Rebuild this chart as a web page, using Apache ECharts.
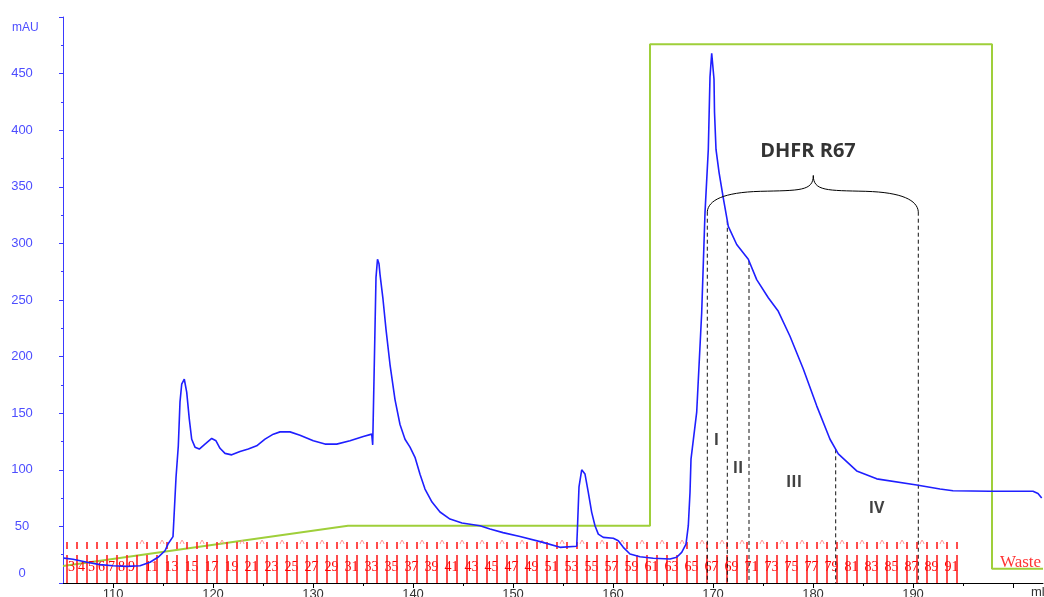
<!DOCTYPE html>
<html>
<head>
<meta charset="utf-8">
<script src="https://cdn.jsdelivr.net/npm/echarts@6/dist/echarts.min.js"></script>
<style>
  html, body { margin: 0; padding: 0; background: #fff; }
  #main { width: 1044px; height: 597px; }
</style>
</head>
<body>
<div id="main"></div>
<script>
// UV 280 nm trace (volume in ml, absorbance in mAU)
const uvMl = [
  105.1, 106.0, 107.4, 108.7, 110.0, 111.4, 112.7, 113.7, 114.5, 115.2, 115.5, 116.0,
  116.3, 116.53, 116.7, 116.87, 117.13, 117.37, 117.63, 117.87, 118.2, 118.63, 119.2,
  119.87, 120.3, 120.7, 121.2, 121.87, 122.7, 123.53, 124.37, 125.2, 126.03, 126.7,
  127.7, 128.7, 130.03, 131.2, 132.37, 133.7, 135.03, 135.87, 135.97, 136.1, 136.3,
  136.45, 136.6, 136.7, 137.0, 137.3, 137.7, 138.2, 138.7, 139.2, 139.7, 140.2, 140.7,
  141.2, 141.9, 142.7, 143.7, 144.9, 146.7, 147.7, 149.0, 150.7, 153.0, 154.7, 156.37,
  156.43, 156.6, 156.87, 157.2, 157.53, 157.87, 158.2, 158.53, 159.03, 160.03, 160.53,
  161.03, 161.7, 162.7, 164.03, 165.7, 166.37, 166.87, 167.3, 167.53, 167.7, 167.8,
  168.37, 168.87, 169.2, 169.53, 169.7, 169.87, 170.0, 170.1, 170.15, 170.3, 170.6,
  171.03, 171.53, 172.37, 173.53, 174.37, 175.53, 176.53, 177.7, 179.03, 180.37, 181.7,
  182.53, 184.37, 186.37, 190.37, 192.7, 194.0, 197.7, 202.0, 202.5, 202.87
];
const uvMau = [
  22, 21, 18.3, 16.2, 15.3, 14.7, 15.3, 18.3, 22.7, 28.5, 34.4, 41,
  93, 121, 160, 175.6, 180, 168.6, 144.7, 127, 120, 118.3, 122.7,
  127.7, 125.6, 119, 114.5, 113.2, 116.2, 118.3, 121.2, 127.1, 131.5, 133.5,
  133.5, 130.6, 125.6, 122.7, 122.7, 125.6, 129.5, 131.5, 122, 180, 270,
  286, 282, 272.7, 250.7, 224, 193, 162, 140, 127, 120, 111, 96,
  83, 71.5, 62.7, 56.5, 53, 50.5, 47.7, 44.5, 41, 35.9, 31.5, 32.4,
  45, 85, 100, 96.2, 80, 62.4, 50.6, 43.2, 40.3, 39.5, 37.3,
  31.5, 25.6, 23.2, 21.8, 21.2, 22.7, 27.1, 34.4, 50.6, 80, 109.4,
  151, 239, 327, 383, 447, 468, 467, 445, 416, 383, 363,
  340, 315, 299, 286, 268, 252, 240, 218, 189, 156.5, 127,
  114, 99, 92, 86.5, 83, 81.5, 81, 81, 79, 75
];

// Gradient / concentration trace (% B)
const concMl = [105.0, 133.5, 163.7, 163.7, 197.9, 197.9, 203.0];
const concPct = [3.0, 10.1, 10.1, 95.2, 95.2, 2.5, 2.5];

// Fraction collector: fraction numbers and their start volumes (ml)
const fractionNo = [
  3, 4, 5, 6, 7, 8, 9, 10, 11, 12, 13, 14, 15, 16, 17, 18, 19, 20, 21, 22, 23, 24, 25, 26,
  27, 28, 29, 30, 31, 32, 33, 34, 35, 36, 37, 38, 39, 40, 41, 42, 43, 44, 45, 46, 47, 48,
  49, 50, 51, 52, 53, 54, 55, 56, 57, 58, 59, 60, 61, 62, 63, 64, 65, 66, 67, 68, 69, 70,
  71, 72, 73, 74, 75, 76, 77, 78, 79, 80, 81, 82, 83, 84, 85, 86, 87, 88, 89, 90, 91, 92
];
const fractionStart = [
  105.4, 106.4, 107.4, 108.4, 109.4, 110.4, 111.4, 112.4, 113.4, 114.4, 115.4, 116.4,
  117.4, 118.4, 119.4, 120.4, 121.4, 122.4, 123.4, 124.4, 125.4, 126.4, 127.4, 128.4,
  129.4, 130.4, 131.4, 132.4, 133.4, 134.4, 135.4, 136.4, 137.4, 138.4, 139.4, 140.4,
  141.4, 142.4, 143.4, 144.4, 145.4, 146.4, 147.4, 148.4, 149.4, 150.4, 151.4, 152.4,
  153.4, 154.4, 155.4, 156.4, 157.4, 158.4, 159.4, 160.4, 161.4, 162.4, 163.4, 164.4,
  165.4, 166.4, 167.4, 168.4, 169.4, 170.4, 171.4, 172.4, 173.4, 174.4, 175.4, 176.4,
  177.4, 178.4, 179.4, 180.4, 181.4, 182.4, 183.4, 184.4, 185.4, 186.4, 187.4, 188.4,
  189.4, 190.4, 191.4, 192.4, 193.4, 194.4
];
// fractions whose number is printed
const fractionLabelled = [
  3, 4, 5, 6, 7, 8, 9, 11, 13, 15, 17, 19, 21, 23, 25, 27, 29, 31, 33, 35, 37, 39, 41, 43,
  45, 47, 49, 51, 53, 55, 57, 59, 61, 63, 65, 67, 69, 71, 73, 75, 77, 79, 81, 83, 85, 87, 89, 91
];
// fractions carrying the small caret mark in the upper row
const fractionCaret = [
  11, 13, 15, 17, 19, 21, 23, 25, 27, 29, 31, 33, 35, 37, 39, 41, 43, 45, 47, 49, 51, 53,
  55, 57, 59, 61, 63, 65, 67, 69, 71, 73, 75, 77, 79, 81, 83, 85, 87, 89, 91
];

// Pooling cuts of the DHFR R67 peak (ml) and the brace spanning them
const cutMl = [169.43, 171.43, 173.6, 182.27, 190.53];
const braceEndMau = 328;
const braceMidMau = 346;
const braceTipMl = 180.03;
const braceTipMau = 360;

// Pool names and their positions (ml, mAU)
const poolNames = ['I', 'II', 'III', 'IV'];
const poolMl = [170.35, 172.5, 178.1, 186.35];
const poolMau = [126, 101, 89, 66];

// Axis tick values
const xLabelValues = [110, 120, 130, 140, 150, 160, 170, 180, 190];
const xMajorTicks = [110, 120, 130, 140, 150, 160, 170, 180, 190, 200];
const xMinorTicks = [115, 125, 135, 145, 155, 165, 175, 185, 195];

function uvAt(v) {
  for (let i = 1; i < uvMl.length; i++) {
    if (uvMl[i] >= v) {
      const t = (v - uvMl[i - 1]) / (uvMl[i] - uvMl[i - 1]);
      return uvMau[i - 1] + t * (uvMau[i] - uvMau[i - 1]);
    }
  }
  return uvMau[uvMau.length - 1];
}

const uvData = uvMl.map((v, i) => [v, uvMau[i]]);
const concData = concMl.map((v, i) => [v, concPct[i]]);
const fractionData = fractionNo.map((n, i) => [
  fractionStart[i], n,
  fractionLabelled.indexOf(n) >= 0 ? 1 : 0,
  fractionCaret.indexOf(n) >= 0 ? 1 : 0
]);
const cutData = cutMl.map((v, i) => [v, (i === 0 || i === cutMl.length - 1) ? braceEndMau : uvAt(v)]);
const poolData = poolNames.map((name, i) => ({ name: name, value: [poolMl[i], poolMau[i]] }));

const chart = echarts.init(document.getElementById('main'));
chart.setOption({
  animation: false,
  backgroundColor: '#fff',
  grid: { left: 63, right: 1, top: 17, bottom: 14, outerBoundsMode: 'none', containLabel: false },
  xAxis: [{
    type: 'value', min: 105, max: 203,
    axisLine: { onZero: false, lineStyle: { color: '#000', width: 1 } },
    axisTick: { show: true, customValues: xMajorTicks, length: 5, lineStyle: { color: '#000' } },
    axisLabel: { customValues: xLabelValues, margin: 5, color: '#333', fontSize: 13, fontFamily: 'Liberation Sans' },
    splitLine: { show: false }
  }, {
    type: 'value', min: 105, max: 203, position: 'bottom',
    axisLine: { show: false, onZero: false },
    axisTick: { show: true, customValues: xMinorTicks, length: 3, lineStyle: { color: '#000' } },
    axisLabel: { show: false },
    splitLine: { show: false }
  }],
  yAxis: [{
    type: 'value', min: 0, max: 500, interval: 50,
    axisLine: { show: true, onZero: false, lineStyle: { color: '#3a3aff', width: 1 } },
    axisTick: { show: true, length: 4, lineStyle: { color: '#3a3aff' } },
    minorTick: { show: true, splitNumber: 2, length: 2, lineStyle: { color: '#3a3aff' } },
    axisLabel: {
      formatter: v => (v === 500 ? '' : (v === 0 ? '{base|0}' : String(v))),
      rich: { base: { padding: [0, 0, 20, 0], color: '#4d4dff', fontSize: 13, fontFamily: 'Liberation Sans' } },
      align: 'center', margin: 41, color: '#4d4dff', fontSize: 13, fontFamily: 'Liberation Sans'
    },
    splitLine: { show: false }
  }, {
    type: 'value', min: 0, max: 100, show: false
  }],
  graphic: [
    { type: 'text', left: 12, top: 22, style: { text: 'mAU', fill: '#4d4dff', font: '12px "Liberation Sans"' } },
    { type: 'text', left: 1031, top: 586, style: { text: 'ml', fill: '#333', font: '13px "Liberation Sans"' } }
  ],
  series: [
    {
      name: 'Conc B', type: 'line', xAxisIndex: 0, yAxisIndex: 1, data: concData,
      showSymbol: false, symbol: 'none', z: 2,
      lineStyle: { color: '#9fcf3a', width: 2 }
    },
    {
      name: 'Fractions', type: 'custom', xAxisIndex: 0, yAxisIndex: 0, data: fractionData, z: 3,
      clip: false,
      renderItem: (params, api) => {
        const p = api.coord([api.value(0), 0]);
        const x = Math.round(p[0]);
        const y0 = Math.round(p[1]);
        const children = [
          { type: 'line', shape: { x1: x, y1: y0 - 41, x2: x, y2: y0 - 34 }, style: { stroke: '#ff2020', fill: null, lineWidth: 1.6 } },
          { type: 'line', shape: { x1: x, y1: y0 - 28, x2: x, y2: y0 }, style: { stroke: '#ff2020', fill: null, lineWidth: 1.6 } }
        ];
        if (api.value(2)) {
          children.push({
            type: 'text', x: x + 4.5, y: y0 - 16,
            style: { text: String(api.value(1)), fill: '#ff0000', font: '14px "Liberation Serif"', align: 'center', verticalAlign: 'middle' }
          });
        }
        if (api.value(3)) {
          children.push({
            type: 'text', x: x - 5, y: y0 - 38,
            style: { text: '^', fill: '#ff8c8c', font: '11px "Liberation Sans"', align: 'center', verticalAlign: 'middle' }
          });
        }
        return { type: 'group', children: children };
      }
    },
    {
      name: 'Cuts', type: 'custom', data: cutData, z: 4,
      renderItem: (params, api) => {
        const top = api.coord([api.value(0), api.value(1)]);
        const bot = api.coord([api.value(0), 0]);
        return {
          type: 'line',
          shape: { x1: top[0], y1: top[1], x2: bot[0], y2: bot[1] },
          style: { stroke: '#111', lineWidth: 1, lineDash: [4, 3] }
        };
      }
    },
    {
      name: 'UV', type: 'line', data: uvData, showSymbol: false, symbol: 'none', z: 5,
      lineStyle: { color: '#1f1fff', width: 1.6 }
    },
    {
      name: 'Brace', type: 'custom', z: 6,
      data: [[cutMl[0], cutMl[cutMl.length - 1], braceEndMau, braceTipMl, braceTipMau, braceMidMau]],
      renderItem: (params, api) => {
        const L = api.coord([api.value(0), api.value(2)]);
        const R = api.coord([api.value(1), api.value(2)]);
        const C = api.coord([api.value(3), api.value(4)]);
        const ym = api.coord([api.value(3), api.value(5)])[1];
        const lm = (L[0] + C[0]) / 2;
        const rm = (C[0] + R[0]) / 2;
        const seg = (x1, y1, cx1, cy1, cx2, cy2, x2, y2) => ({
          type: 'bezierCurve',
          shape: { x1: x1, y1: y1, cpx1: cx1, cpy1: cy1, cpx2: cx2, cpy2: cy2, x2: x2, y2: y2 },
          style: { stroke: '#000', fill: null, lineWidth: 1 }
        });
        return {
          type: 'group',
          children: [
            seg(L[0], L[1], L[0] + 1, ym + 9, L[0] + 16, ym + 1, lm, ym),
            seg(lm, ym, C[0] - 14, ym - 1, C[0], ym, C[0], C[1]),
            seg(C[0], C[1], C[0], ym, C[0] + 14, ym - 1, rm, ym),
            seg(rm, ym, R[0] - 16, ym + 1, R[0] - 1, ym + 9, R[0], R[1])
          ]
        };
      }
    },
    {
      name: 'Pools', type: 'scatter', data: poolData, symbolSize: 0, z: 7,
      label: {
        show: true, position: 'inside', formatter: '{b}',
        color: '#111', fontSize: 16, fontWeight: 'bold', fontFamily: 'Open Sans'
      }
    },
    {
      name: 'Titles', type: 'scatter', symbolSize: 0, z: 7,
      data: [{ name: 'DHFR R67', value: [179.5, 381] }],
      label: {
        show: true, position: 'inside', formatter: '{b}',
        color: '#000', fontSize: 20, fontWeight: 'bold', fontFamily: 'Open Sans'
      }
    },
    {
      name: 'Waste', type: 'scatter', symbolSize: 0, z: 7,
      data: [{ name: 'Waste', value: [200.75, 18] }],
      label: {
        show: true, position: 'inside', formatter: '{b}',
        color: '#ff0000', fontSize: 17, fontFamily: 'Liberation Serif'
      }
    }
  ]
});
</script>
</body>
</html>
